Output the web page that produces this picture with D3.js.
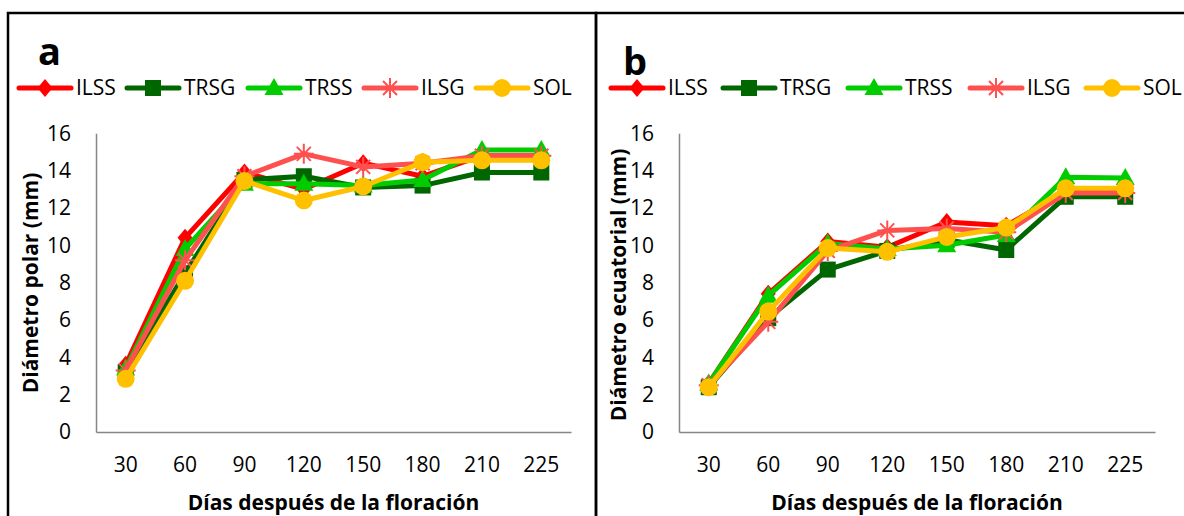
<!DOCTYPE html>
<html lang="es">
<head>
<meta charset="UTF-8">
<title>Diámetro polar y ecuatorial</title>
<script src="https://d3js.org/d3.v7.min.js"></script>
<style>
  body{margin:0;background:#fff;}
  svg text{font-family:"Open Sans",sans-serif;fill:#000;}
  .tick text{font-size:21px;}
  .lg text{font-size:21px;}
  .ttl{font-size:21px;font-weight:bold;}
  .pl{font-size:38px;font-weight:bold;}
</style>
</head>
<body>
<div id="chart"></div>
<script>
// ---- data ----
const days = ["30","60","90","120","150","180","210","225"];
const seriesNames = ["ILSS","TRSG","TRSS","ILSG","SOL"];
const seriesColors = ["#ff0000","#006600","#00cc00","#ff5050","#ffc000"];
const seriesMarks = ["diamond","square","triangle","asterisk","circle"];
const yTicks = [0,2,4,6,8,10,12,14,16];

// panel a : polar diameter (mm)
const polarILSS = [3.6,10.4,13.9,13.0,14.4,13.7,14.8,14.8];
const polarTRSG = [3.2,8.5,13.5,13.7,13.1,13.2,13.9,13.9];
const polarTRSS = [3.4,9.8,13.3,13.3,13.2,13.5,15.1,15.1];
const polarILSG = [3.3,9.2,13.7,14.9,14.2,14.4,14.8,14.8];
const polarSOL  = [2.85,8.1,13.45,12.4,13.15,14.45,14.55,14.55];

// panel b : equatorial diameter (mm)
const ecuaILSS = [2.6,7.4,10.2,9.9,11.25,11.05,12.9,12.9];
const ecuaTRSG = [2.4,6.1,8.7,9.7,10.3,9.75,12.6,12.6];
const ecuaTRSS = [2.6,7.3,10.1,9.8,10.0,10.55,13.65,13.6];
const ecuaILSG = [2.5,5.9,9.7,10.8,10.9,10.7,12.8,12.8];
const ecuaSOL  = [2.4,6.45,9.85,9.65,10.45,10.95,13.05,13.05];

const W = 1184, H = 516;
const svg = d3.select("#chart").append("svg").attr("width",W).attr("height",H);

// frames
svg.append("rect").attr("x",8).attr("y",13).attr("width",588).attr("height",540)
  .attr("fill","none").attr("stroke","#000").attr("stroke-width",2.5);
svg.append("rect").attr("x",596).attr("y",13).attr("width",620).attr("height",540)
  .attr("fill","none").attr("stroke","#000").attr("stroke-width",2.5);

function marker(g, type, color){
  if(type==="diamond"){
    g.append("path").attr("d","M0,-9L7.5,0L0,9L-7.5,0Z").attr("fill",color);
  }else if(type==="square"){
    g.append("rect").attr("x",-8).attr("y",-8).attr("width",16).attr("height",16).attr("fill",color);
  }else if(type==="triangle"){
    g.append("path").attr("d","M0,-10L9.5,7L-9.5,7Z").attr("fill",color);
  }else if(type==="circle"){
    g.append("circle").attr("r",9).attr("fill",color);
  }else{
    g.append("path").attr("d","M0,-10V10M-7,-7L7,7M-7,7L7,-7M-10,0H10")
      .attr("stroke",color).attr("stroke-width",2).attr("fill","none");
  }
}

function panel(cfg){
  const x = d3.scaleBand().domain(days).range([cfg.x0,cfg.x1]);
  const y = d3.scaleLinear().domain([0,16]).range([432,133.3]);

  const yAx = svg.append("g").attr("transform",`translate(${cfg.x0},0)`)
    .call(d3.axisLeft(y).tickValues(yTicks).tickSize(0).tickPadding(25));
  yAx.select(".domain").attr("stroke","#868686").attr("stroke-width",1.5);
  yAx.selectAll("text").attr("font-family",null).attr("font-size",null);

  const xAx = svg.append("g").attr("transform","translate(0,432)")
    .call(d3.axisBottom(x).tickSize(0).tickPadding(25));
  xAx.select(".domain").attr("stroke","#868686").attr("stroke-width",1.5);
  xAx.selectAll("text").attr("font-family",null).attr("font-size",null);

  svg.append("text").attr("class","ttl").attr("text-anchor","middle")
    .attr("transform",`translate(${cfg.yLabelX},${cfg.yLabelY}) rotate(-90)`)
    .attr("dy","0.35em").text(cfg.yLabel);
  svg.append("text").attr("class","ttl").attr("text-anchor","middle")
    .attr("x",(cfg.x0+cfg.x1)/2).attr("y",510).text("Días después de la floración");
  svg.append("text").attr("class","pl").attr("x",cfg.letterX).attr("y",cfg.letterY).text(cfg.letter);

  const line = d3.line().x((d,i)=>x(days[i])+x.bandwidth()/2).y(d=>y(d));
  cfg.values.forEach((vals,s)=>{
    const g = svg.append("g");
    g.append("path").datum(vals).attr("d",line).attr("fill","none")
      .attr("stroke",seriesColors[s]).attr("stroke-width",5).attr("stroke-linejoin","round");
    vals.forEach((v,i)=>{
      const m = g.append("g").attr("transform",`translate(${x(days[i])+x.bandwidth()/2},${y(v)})`);
      marker(m, seriesMarks[s], seriesColors[s]);
    });
  });

  // legend
  const lg = svg.append("g").attr("class","lg");
  seriesNames.forEach((n,s)=>{
    const lx = cfg.legendX[s], ly = 88;
    lg.append("line").attr("x1",lx).attr("x2",lx+52).attr("y1",ly).attr("y2",ly)
      .attr("stroke",seriesColors[s]).attr("stroke-width",5).attr("stroke-linecap","round");
    marker(lg.append("g").attr("transform",`translate(${lx+26},${ly})`), seriesMarks[s], seriesColors[s]);
    lg.append("text").attr("x",lx+57).attr("y",ly).attr("dy","0.35em").text(n);
  });
}

panel({x0:96,x1:571,letter:"a",letterX:38,letterY:65,
  yLabel:"Diámetro polar (mm)",yLabelX:31,yLabelY:283,
  legendX:[19,127,248,364,476],
  values:[polarILSS,polarTRSG,polarTRSS,polarILSG,polarSOL]});

panel({x0:679,x1:1155,letter:"b",letterX:623,letterY:75,
  yLabel:"Diámetro ecuatorial (mm)",yLabelX:619,yLabelY:285,
  legendX:[611,723,848,970,1086],
  values:[ecuaILSS,ecuaTRSG,ecuaTRSS,ecuaILSG,ecuaSOL]});
</script>
</body>
</html>
